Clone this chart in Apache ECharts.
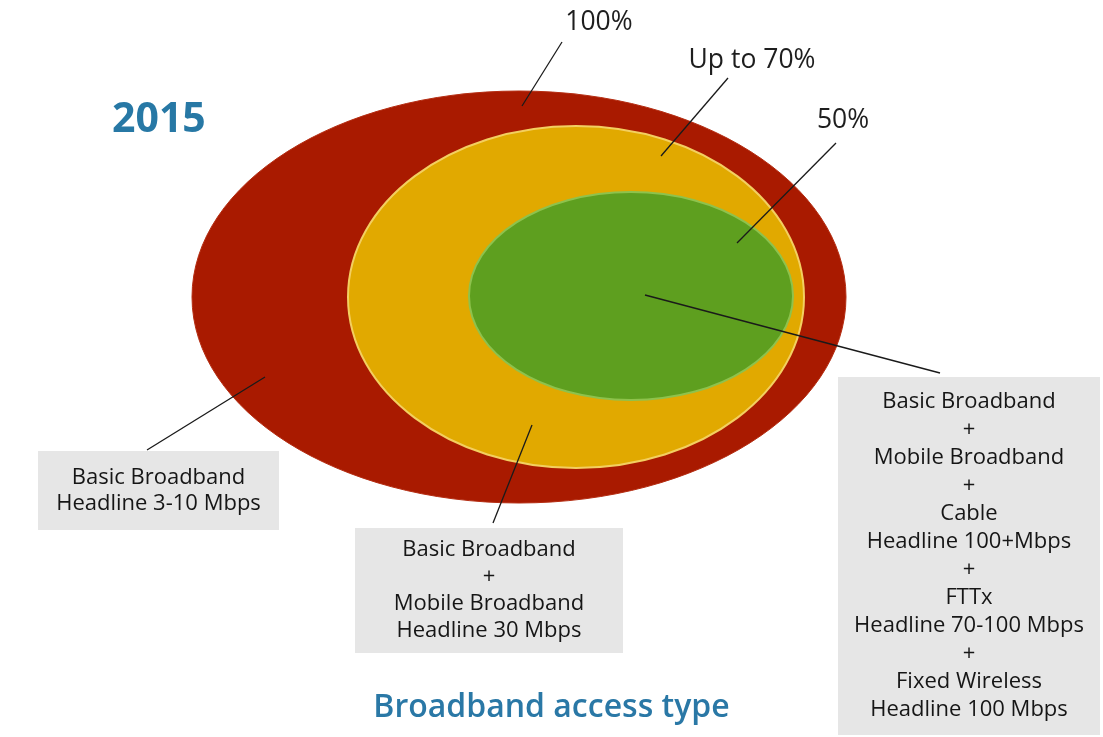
<!DOCTYPE html>
<html>
<head>
<meta charset="utf-8">
<script src="https://cdn.jsdelivr.net/npm/echarts@6/dist/echarts.min.js"></script>
<style>
html,body{margin:0;padding:0;background:#fff;}
#chart{width:1103px;height:737px;}
</style>
</head>
<body>
<div id="chart"></div>
<script>
// ---- data ----
const yearLabel = '2015';
const axisTitle = 'Broadband access type';
const shareLabels = ['100%', 'Up to 70%', '50%'];
const shareValues = [100, 70, 50];
// nested ellipses (diagram units): centre x, centre y, radius x, radius y
const ellipseCx = [519, 576, 631];
const ellipseCy = [297, 297, 296];
const ellipseRx = [327, 228, 162];
const ellipseRy = [206, 171, 104];
// access type descriptions
const accessTypes = [
  ['Basic Broadband', 'Headline 3-10 Mbps'],
  ['Basic Broadband', '+', 'Mobile Broadband', 'Headline 30 Mbps'],
  ['Basic Broadband', '+', 'Mobile Broadband', '+', 'Cable', 'Headline 100+Mbps', '+', 'FTTx', 'Headline 70-100 Mbps', '+', 'Fixed Wireless', 'Headline 100 Mbps']
];
// share label anchors and leader lines
const shareLabelX = [599, 752, 843];
const shareLabelY = [22, 60, 120];
const shareLeaders = [[562, 42, 522, 106], [728, 78, 661, 156], [836, 143, 737, 243]];
// description boxes: x0, y0, x1, y1
const boxRects = [[38, 451, 279, 530], [355, 528, 623, 653], [838, 377, 1100, 735]];
const boxLineHeight = [26, 27, 28];
const boxLeaders = [[265, 377, 147, 450], [532, 425, 493, 523], [645, 295, 940, 373]];

// ---- styles ----
const fills = ['#a91a00', '#e1a900', '#5e9f1f'];
const strokes = ['#b52d12', '#f3cf60', '#8ec24c'];
const FONT = '"Open Sans", sans-serif';

const chart = echarts.init(document.getElementById('chart'));

const ellipseData = ellipseCx.map((x, i) => [x, ellipseCy[i], ellipseRx[i], ellipseRy[i], shareValues[i]]);
const leaderData = shareLeaders.concat(boxLeaders);
const shareLabelData = shareLabelX.map((x, i) => [x, shareLabelY[i]]);
const boxData = boxRects.map(r => r.slice());

chart.setOption({
  animation: false,
  backgroundColor: '#ffffff',
  title: [
    {text: yearLabel, left: 107, top: 95,
     textStyle: {fontFamily: FONT, fontSize: 41, fontWeight: 'bold', color: '#2778a5'}},
    {text: axisTitle, left: 'center', top: 687, itemGap: 0,
     textStyle: {fontFamily: FONT, fontSize: 32, fontWeight: 600, color: '#2a78a6'}}
  ],
  grid: {left: 0, right: 0, top: 0, bottom: 0},
  xAxis: {type: 'value', min: 0, max: 1103, show: false},
  yAxis: {type: 'value', min: 0, max: 737, inverse: true, show: false},
  series: [
    {
      type: 'custom', name: 'coverage', data: ellipseData, silent: true,
      renderItem: function (params, api) {
        const c = api.coord([api.value(0), api.value(1)]);
        const s = api.size([api.value(2), api.value(3)]);
        const i = params.dataIndex;
        return {
          type: 'ellipse',
          shape: {cx: c[0], cy: c[1], rx: s[0], ry: s[1]},
          style: {fill: fills[i], stroke: strokes[i], lineWidth: i === 0 ? 1 : 2}
        };
      }
    },
    {
      type: 'custom', name: 'leaders', data: leaderData, silent: true, z: 5,
      renderItem: function (params, api) {
        const a = api.coord([api.value(0), api.value(1)]);
        const b = api.coord([api.value(2), api.value(3)]);
        return {
          type: 'line',
          shape: {x1: a[0], y1: a[1], x2: b[0], y2: b[1]},
          style: {stroke: '#1a1a1a', lineWidth: 1.3}
        };
      }
    },
    {
      type: 'custom', name: 'shares', data: shareLabelData, silent: true, z: 6,
      renderItem: function (params, api) {
        const p = api.coord([api.value(0), api.value(1)]);
        return {
          type: 'text',
          x: p[0], y: p[1],
          style: {text: shareLabels[params.dataIndex], fontFamily: FONT, fontSize: 26.5,
                  fill: '#1e1e1e', align: 'center', verticalAlign: 'middle'}
        };
      }
    },
    {
      type: 'custom', name: 'access', data: boxData, silent: true, z: 4,
      renderItem: function (params, api) {
        const i = params.dataIndex;
        const p0 = api.coord([api.value(0), api.value(1)]);
        const p1 = api.coord([api.value(2), api.value(3)]);
        const lines = accessTypes[i];
        const lh = api.size([0, boxLineHeight[i]])[1];
        const cx = (p0[0] + p1[0]) / 2, cy = (p0[1] + p1[1]) / 2;
        return {
          type: 'group',
          children: [
            {type: 'rect', shape: {x: p0[0], y: p0[1], width: p1[0] - p0[0], height: p1[1] - p0[1]},
             style: {fill: '#e6e6e6'}},
            {type: 'text', x: cx, y: cy,
             style: {text: lines.join('\n'), fontFamily: FONT, fontSize: 22, lineHeight: lh,
                     fill: '#161616', align: 'center', verticalAlign: 'middle'}}
          ]
        };
      }
    }
  ]
});
</script>
</body>
</html>
